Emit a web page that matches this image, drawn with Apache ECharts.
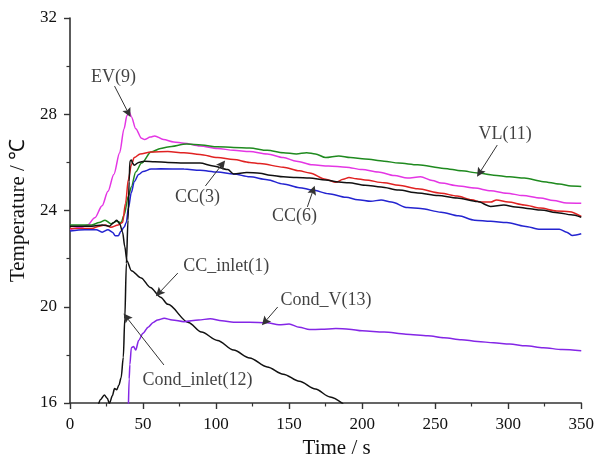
<!DOCTYPE html>
<html><head><meta charset="utf-8">
<script src="https://cdn.jsdelivr.net/npm/echarts@6/dist/echarts.min.js"></script>
<style>html,body{margin:0;padding:0;background:#fff}#c{width:597px;height:466px}</style>
</head><body><div id="c"></div>
<script>
// ---- data ([time s, temperature °C]) ----
const evData = [[0,23.2],[8,23.3],[12,23.4],[17,23.7],[22,24.2],[26,24.8],[30,25.5],[34,26.4],[37,27.4],[39,27.95],[40.5,28.1],[42,27.9],[45,27.4],[49,27.0],[51,26.95],[55,27.05],[58,27.1],[64,26.95],[71,26.85],[78,26.8],[89,26.68],[101,26.58],[112,26.5],[123,26.45],[135,26.35],[146,26.2],[155,26.05],[166,25.9],[177,25.85],[189,25.8],[200,25.7],[211,25.6],[222,25.45],[231,25.35],[240,25.4],[248,25.25],[254,25.14],[266,25.02],[277,24.93],[288,24.82],[299,24.72],[310,24.62],[322,24.52],[331,24.42],[340,24.31],[350,24.3]];
const vlData = [[0,23.4],[15,23.4],[20,23.5],[24,23.6],[28,23.45],[32,23.55],[35,23.5],[37,23.8],[40,24.6],[42,24.98],[45,25.6],[49,25.97],[55.5,26.43],[62,26.58],[67,26.64],[80,26.76],[90,26.72],[101,26.65],[112,26.62],[123,26.6],[135,26.5],[146,26.4],[155,26.35],[162,26.4],[168,26.35],[175,26.2],[184,26.27],[192,26.2],[202,26.14],[215,26.05],[225,25.97],[238,25.9],[256,25.75],[268,25.65],[279,25.56],[290,25.47],[301,25.4],[311,25.35],[324,25.2],[335,25.1],[343,25.02],[350,25.0]];
const cc3Data = [[0,23.25],[15,23.25],[20,23.35],[24,23.4],[28,23.3],[33,23.4],[36,23.5],[38,24.3],[40,25.3],[42,25.9],[44,26.2],[48,26.35],[55.5,26.43],[67,26.45],[78,26.4],[89,26.33],[101,26.2],[112,26.12],[123,26.0],[130,25.95],[146,25.8],[157,25.65],[164,25.56],[175,25.3],[182,25.17],[187,25.3],[191,25.37],[196,25.32],[202,25.27],[215,25.15],[225,25.05],[238,24.9],[254,24.72],[265,24.6],[275,24.45],[281,24.35],[288,24.35],[292,24.44],[300,24.35],[311,24.23],[322,24.1],[333,23.98],[342,23.95],[350,23.75]];
const cc6Data = [[0,23.15],[10,23.2],[18,23.2],[22,23.1],[26,23.2],[29,23.1],[31,22.95],[33,22.95],[35,23.15],[37,23.3],[38.5,23.5],[40,24.1],[42,24.75],[44,25.2],[47,25.5],[50,25.62],[55.5,25.72],[62,25.73],[78,25.72],[89,25.67],[101,25.6],[112,25.52],[123,25.4],[135,25.28],[146,25.1],[157,24.95],[166,24.85],[177,24.7],[189,24.55],[197,24.45],[206,24.38],[213,24.44],[220,24.35],[231,24.12],[240,24.08],[254,23.93],[266,23.78],[277,23.6],[288,23.55],[299,23.5],[311,23.35],[322,23.22],[335,23.22],[340,23.1],[344,22.96],[350,23.03]];
const ccInletData = [[0,23.35],[15,23.35],[22,23.4],[27,23.35],[30,23.5],[32,23.6],[34,23.45],[36,23.1],[37.5,22.5],[39,21.9],[42,21.5],[48.7,21.2],[55,20.8],[62,20.4],[67,20.1],[81,19.35],[90,18.95],[101,18.6],[112,18.2],[123,17.87],[135,17.5],[146,17.2],[157,16.9],[168,16.58],[178,16.25],[187,15.96]];
const condInletData = [[19.5,15.95],[21,16.15],[23.5,16.33],[25.5,16.2],[27,15.98],[29,16.3],[30.5,16.6],[32,16.55],[33.5,16.75],[35,17.05],[36.5,17.9],[37.5,19.5],[38.6,21.8],[39.7,23.6],[40.5,25.2],[41,26.05],[42,26.1],[43,25.95],[44,25.88],[47,26.0],[51,26.05],[58,26.03],[67,26.0],[78,25.97],[89,25.97],[98,25.85],[108,25.7],[112,25.52],[121,25.58],[130,25.55],[137,25.47],[146,25.4],[155,25.37],[164,25.35],[175,25.27],[184,25.18],[191,25.15],[202,25.05],[213,24.98],[225,24.85],[238,24.73],[252,24.62],[265,24.52],[279,24.37],[288,24.17],[297,24.23],[305,24.15],[315,24.07],[322,24.02],[335,23.9],[343,23.82],[350,23.72]];
const condVData = [[40,15.9],[40.5,17.0],[41,17.6],[42,18.3],[43.5,18.35],[45,18.2],[47,18.6],[50,18.9],[53.5,19.15],[57,19.35],[60,19.45],[64.5,19.52],[70,19.45],[78,19.38],[88,19.45],[96,19.5],[104,19.42],[112,19.36],[123,19.36],[135,19.33],[143,19.25],[150,19.28],[157,19.15],[164,19.05],[172,19.06],[182,19.1],[191,19.07],[200,19.0],[215,18.95],[230,18.86],[245,18.8],[256,18.71],[268,18.63],[279,18.56],[290,18.5],[301,18.45],[312,18.38],[324,18.3],[337,18.22],[350,18.17]];

// annotations: label text, label position, arrow start, arrow tip (data coords)
const annoText = ['EV(9)','VL(11)','CC(3)','CC(6)','CC_inlet(1)','Cond_V(13)','Cond_inlet(12)'];
const annoPos  = [[29.8,29.55],[297.9,27.18],[87.3,24.56],[153.7,23.77],[107,21.69],[175.3,20.28],[87.3,16.96]];
const annoFrom = [[30.5,29.17],[292.5,26.72],[92.7,25.02],[162.5,24.15],[73.8,21.4],[142.2,19.99],[64.3,17.58]];
const annoTo   = [[40,28.05],[280.3,25.56],[104.3,25.93],[166.5,24.85],[60.9,20.57],[133.4,19.37],[38.6,19.57]];

const xMin = 0, xMax = 350, xStep = 50;
const yMin = 16, yMax = 32, yStep = 4;
const xName = 'Time / s', yName = 'Temperature / ℃';

const font = 'Liberation Serif, Times New Roman, serif';
const chart = echarts.init(document.getElementById('c'), null, {renderer:'canvas'});
function line(name, data, color){
  return {name, type:'line', data, showSymbol:false, symbol:'none', smooth:0.3, smoothMonotone:'x',
          clip:true, lineStyle:{color, width:1.5}, itemStyle:{color}, z:3};
}
const axisCommon = {
  axisLine:{show:true, lineStyle:{color:'#333', width:1.6}},
  axisTick:{show:true, inside:false, length:6, lineStyle:{color:'#333', width:1.4}},
  minorTick:{show:true, splitNumber:2, length:3.5, lineStyle:{color:'#333', width:1.2}},
  splitLine:{show:false}
};
chart.setOption({
  animation:false,
  backgroundColor:'#fff',
  grid:{left:68, right:12, top:18, bottom:63, containLabel:false},
  xAxis:Object.assign({type:'value', min:xMin, max:xMax, interval:xStep,
    name:'{s|}' + xName, nameLocation:'middle', nameGap:35,
    nameTextStyle:{color:'#111', fontFamily:font, fontSize:21, rich:{s:{width:22}}},
    axisLabel:{color:'#111', fontFamily:font, fontSize:17, margin:13}}, axisCommon),
  yAxis:Object.assign({type:'value', min:yMin, max:yMax, interval:yStep, name:yName, nameLocation:'middle', nameGap:41,
    nameTextStyle:{color:'#111', fontFamily:font, fontSize:21},
    axisLabel:{color:'#111', fontFamily:font, fontSize:17, margin:13}}, axisCommon),
  series:[
    line('EV(9)', evData, '#e436e4'),
    line('VL(11)', vlData, '#1f8a1f'),
    line('CC(3)', cc3Data, '#e02222'),
    line('CC(6)', cc6Data, '#2424d0'),
    line('CC_inlet(1)', ccInletData, '#111111'),
    line('Cond_inlet(12)', condInletData, '#111111'),
    line('Cond_V(13)', condVData, '#8426e6'),
    {
      name:'annotations', type:'scatter', symbolSize:0, z:5,
      data: annoText.map((t,i)=>({value:[annoPos[i][0], annoPos[i][1]], label:{formatter:t}})),
      label:{show:true, position:'inside', color:'#111', fontFamily:font, fontSize:18},
      markLine:{
        silent:true, symbol:['none','path://M5,0 L10,16 L5,13 L0,16 Z'], symbolSize:9, animation:false,
        label:{show:false},
        lineStyle:{color:'#333', width:1, type:'solid'},
        itemStyle:{color:'#111'},
        data: annoFrom.map((f,i)=>[{coord:f}, {coord:annoTo[i]}])
      }
    }
  ]
});
</script></body></html>
